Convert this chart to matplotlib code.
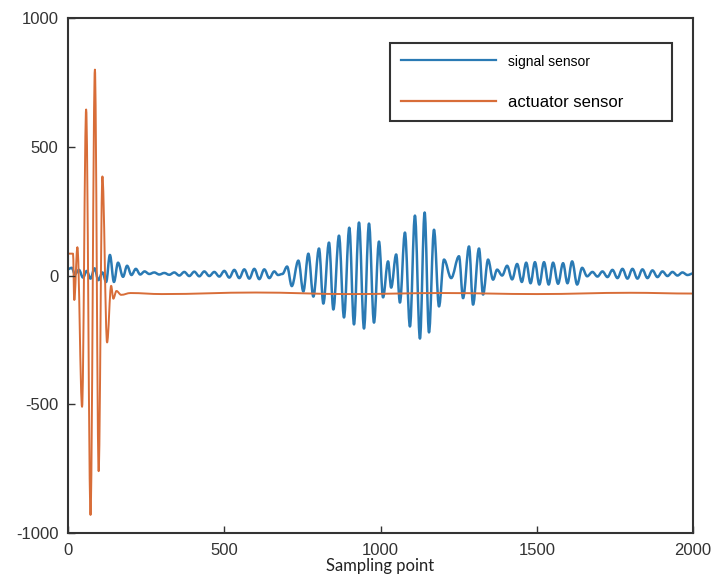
import matplotlib
matplotlib.use("Agg")
import matplotlib.pyplot as plt
from matplotlib.path import Path
from matplotlib.patches import PathPatch
from matplotlib.lines import Line2D

# peaks/troughs (sample index, amplitude)
signal_x = [0, 12, 22, 35, 48, 60, 72, 85, 97, 110, 122, 134, 147, 160, 176, 189,
            203, 217, 231, 245, 260, 276, 292, 308, 324, 340, 356, 372, 388, 404,
            420, 436, 452, 468, 484, 500, 516, 532, 548, 564, 580, 596, 612, 628,
            644, 660, 672, 686, 701, 716, 737, 753, 769, 785, 803, 817, 835, 849,
            867, 883, 900, 915, 931, 947, 963, 979, 995, 1008, 1024, 1034, 1050,
            1062, 1078, 1094, 1110, 1126, 1141, 1155, 1171, 1187, 1203, 1226, 1251,
            1264, 1283, 1296, 1315, 1328, 1344, 1360, 1373, 1389, 1405, 1421, 1437,
            1452, 1466, 1480, 1494, 1508, 1523, 1538, 1552, 1568, 1584, 1598, 1613,
            1629, 1645, 1661, 1678, 1694, 1710, 1726, 1742, 1758, 1774, 1790, 1806,
            1822, 1838, 1854, 1870, 1886, 1902, 1918, 1934, 1950, 1966, 1982, 2000]
signal_y = [25, 30, 5, 22, -8, 18, -12, 28, -18, 12, -25, 80, -25, 50, -5, 38,
            2, 26, 4, 16, 6, 12, 4, 10, 3, 12, 0, 14, -2, 15,
            -3, 16, -2, 14, -4, 18, -8, 22, -10, 24, -12, 26, -14, 24,
            -10, 16, 2, 6, 35, -41, 58, -62, 85, -82, 105, -109, 128, -132,
            155, -163, 186, -190, 206, -206, 202, -183, 132, -85, 55, -47, 82,
            -105, 167, -198, 233, -245, 245, -221, 178, -120, 62, -10, 75,
            -88, 113, -113, 105, -74, 62, -16, 23, 0, 38, -15, 45,
            -25, 50, -30, 52, -35, 52, -35, 50, -32, 48, -30, 55,
            -35, 30, -3, 14, -4, 16, -6, 22, -10, 26, -12, 26,
            -12, 24, -10, 20, -6, 16, -2, 14, 0, 12, 2, 8]

actuator_x = [0, 16, 20, 30, 45, 58, 72, 86, 98, 110, 125, 138, 145, 155, 170,
              200, 300, 600, 900, 1200, 1500, 1800, 2000]
actuator_y = [85, 85, -95, 110, -510, 645, -930, 800, -760, 385, -260, -40, -90,
              -60, -75, -68, -72, -66, -72, -68, -72, -67, -70]

x_ticks = [0, 500, 1000, 1500, 2000]
y_ticks = [-1000, -500, 0, 500, 1000]

plt.rcParams['font.family'] = ['Liberation Sans', 'DejaVu Sans']
plt.rcParams['axes.unicode_minus'] = False


def wave_path(xs, ys):
    # smooth curve through the extrema: flat tangent at every peak/trough
    verts = [(xs[0], ys[0])]
    codes = [Path.MOVETO]
    for i in range(1, len(xs)):
        dx = xs[i] - xs[i - 1]
        verts += [(xs[i - 1] + 0.36 * dx, ys[i - 1]),
                  (xs[i] - 0.36 * dx, ys[i]),
                  (xs[i], ys[i])]
        codes += [Path.CURVE4] * 3
    return Path(verts, codes)


blue = '#2a7ab4'
orange = '#d86d38'

fig = plt.figure(figsize=(7.16, 5.85), dpi=100)
ax = fig.add_axes([0.095, 0.089, 0.873, 0.880])

ax.add_patch(PathPatch(wave_path(signal_x, signal_y), fill=False,
                       edgecolor=blue, lw=1.8, joinstyle='round'))
ax.add_patch(PathPatch(wave_path(actuator_x, actuator_y), fill=False,
                       edgecolor=orange, lw=1.4, joinstyle='round'))

ax.set_xlim(0, 2000)
ax.set_ylim(-1000, 1000)
ax.set_xticks(x_ticks)
ax.set_yticks(y_ticks)
ax.tick_params(direction='in', length=5, width=1, labelsize=12,
               colors='#333333', pad=7)
for s in ax.spines.values():
    s.set_linewidth(1.5)
    s.set_color('#333333')

ax.set_xlabel('Sampling point', fontsize=12, family=['Lato', 'DejaVu Sans'],
              labelpad=0, color='#222222')

handles = [Line2D([], [], color=blue, lw=1.6),
           Line2D([], [], color=orange, lw=1.6)]
leg = ax.legend(handles, ['signal sensor', 'actuator sensor'],
                loc='upper left', bbox_to_anchor=(0.515, 0.792, 0.451, 0.159),
                mode='expand', borderaxespad=0, fontsize=11, handlelength=6.2,
                labelspacing=1.7, borderpad=0.75, fancybox=False, framealpha=1)
leg.get_frame().set_edgecolor('#333333')
leg.get_frame().set_linewidth(1.5)
leg.get_texts()[0].set_fontsize(10)
leg.get_texts()[1].set_fontsize(12)

fig.savefig('out.png', dpi=100)
